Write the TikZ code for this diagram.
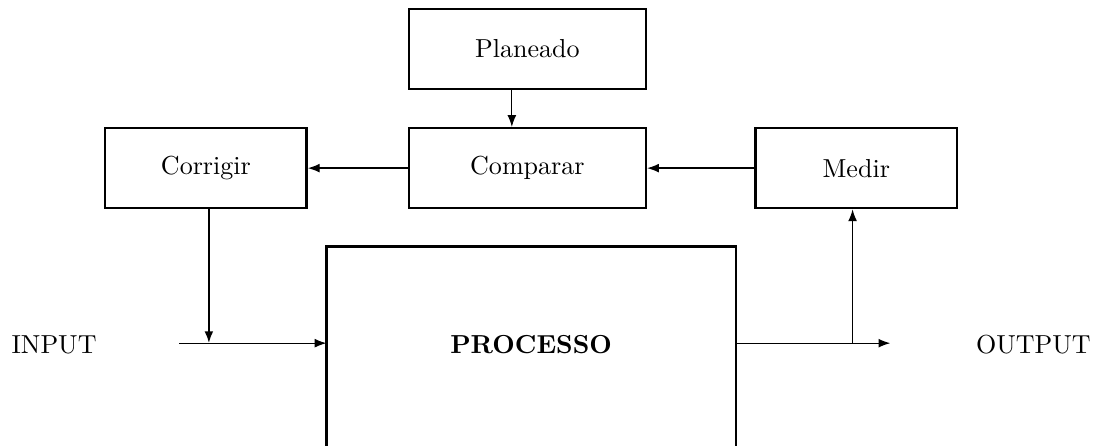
\documentclass[tikz,border=0pt]{standalone}
\usepackage{tikz}
\usetikzlibrary{positioning,arrows.meta,calc}

\begin{document}
\begin{tikzpicture}[
  blk/.style={draw, line width=0.9pt, minimum width=2.72cm, minimum height=1.08cm, align=center},
  wide/.style={blk, minimum width=3.2cm},
  proc/.style={minimum width=5.51cm, minimum height=2.63cm, align=center, font=\bfseries},
  arrow/.style={-{Latex[length=1.6mm, width=1.2mm]}, line width=0.5pt}
]
\useasboundingbox (0,0) rectangle (15.08,6.01);
\node[wide] (plan) at (7.12,5.35) {Planeado};
\node[wide] (comp) at (7.12,3.74) {Comparar};
\node[blk] (corr) at (2.78,3.74) {Corrigir};
\node[blk] (medir) at (11.56,3.74) {Medir};
\node[proc] (proc) at (7.17,1.36) {PROCESSO};
\node (in) at (0.73,1.36) {INPUT};
\node (out) at (13.95,1.36) {OUTPUT};

% process box, open at the bottom
\draw[line width=0.9pt] ([yshift=-2mm]proc.south west) |- (proc.north east) -- ([yshift=-2mm]proc.south east);

\coordinate (instart) at (2.42,1.377);
\coordinate (join) at ([xshift=0.4mm]corr.south |- instart);
\coordinate (outend) at (12.02,1.377);
\coordinate (tap) at ([xshift=-0.5mm]medir.south |- outend);

\draw[arrow] ([xshift=-2.1mm]plan.south) -- ([xshift=-2.1mm]comp.north);
\draw[arrow] (comp) -- (corr);
\draw[arrow] (medir) -- (comp);
\draw[arrow, line width=0.8pt] ([xshift=0.4mm]corr.south) -- (join);
\draw[arrow] (instart) -- (instart -| proc.west);
\draw[arrow] (outend -| proc.east) -- (outend);
\draw[arrow] (tap) -- ([xshift=-0.5mm]medir.south);
\end{tikzpicture}
\end{document}
